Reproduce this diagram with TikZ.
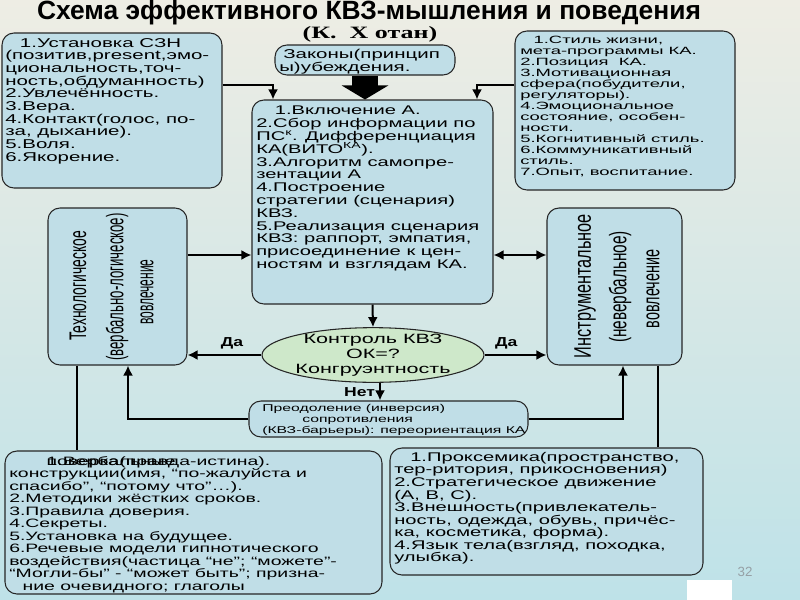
\documentclass[tikz,border=0pt]{standalone}
\usepackage{fontspec}
\setmainfont{Liberation Sans}
\newfontfamily\wfont[FakeStretch=1.35]{Liberation Sans}
\newfontfamily\wwfont[FakeStretch=1.6]{Liberation Sans}
\newfontfamily\wwwfont[FakeStretch=1.75]{Liberation Sans}
\newfontfamily\serwide[FakeStretch=1.5]{Liberation Serif}
\newcommand\tightlines{\lineskiplimit=-20pt\relax}
\usetikzlibrary{positioning, shapes.geometric, fit, arrows.meta}

\definecolor{bgtop}{RGB}{238,237,228}
\definecolor{bgbot}{RGB}{190,226,232}
\definecolor{boxfill}{RGB}{192,222,231}
\definecolor{ovalfill}{RGB}{206,232,202}
\definecolor{pagegray}{RGB}{150,160,165}

\begin{document}
\begin{tikzpicture}[x=0.75pt, y=-0.75pt,
    box/.style={draw=black!85, line width=0.8pt, fill=boxfill, rounded corners=9pt, inner sep=0pt},
    txt/.style={anchor=north west, align=left, inner sep=0pt},
    vtxt/.style={rotate=90, inner sep=0pt, font=\fontsize{18}{18}\selectfont},
    link/.style={line width=1.5pt},
    arr/.style={link, -{Latex[length=7.5pt,width=7.5pt]}},
    dblarr/.style={link, {Latex[length=7.5pt,width=7.5pt]}-{Latex[length=7.5pt,width=7.5pt]}},
    bigarr/.style={line width=19.5pt, -{Triangle[length=10.5pt,width=34.5pt]}},
    yes/.style={font=\wfont\fontsize{9.75}{9.75}\selectfont\bfseries, inner sep=1pt},
]
    \useasboundingbox (0,0) rectangle (800,600);
    \fill[top color=bgtop, bottom color=bgbot] (0,0) rectangle (800,600);

    % title
    \node (title) at (369,13) {\fontsize{19.8}{19.8}\selectfont\bfseries Схема эффективного КВЗ-мышления и поведения};
    \node (subtitle) at (370,34) {\serwide\fontsize{13}{13}\selectfont\bfseries (К.~~Х отан)};

    % boxes
    \node[box, fit={(2,33) (222,188)}] (tl) {};
    \node[box, fit={(275,45) (455,75)}] (tm) {};
    \node[box, fit={(515,31) (735,190)}] (tr) {};
    \node[box, fit={(252,100) (493,304)}] (c) {};
    \node[box, fit={(48,208) (187,365)}] (lv) {};
    \node[box, fit={(547,208) (682,365)}] (rv) {};
    \node[box, fit={(249,401) (528,437)}] (bm) {};
    \node[box, fit={(5,451) (382,594)}] (bl) {};
    \node[box, fit={(390,448) (703,575)}] (br) {};
    \node[ellipse, draw=black!85, line width=0.8pt, fill=ovalfill, minimum width=166.5pt, minimum height=41pt,
          inner sep=0pt] (ov) at (373,355) {};
    \node[align=center, inner sep=0pt, font=\wwfont\fontsize{10.1}{11.2}\selectfont\tightlines] (ovtext) at (ov.center)
          {Контроль КВЗ\\ОК=?\\Конгруэнтность};

    % texts
    \node[txt, font=\wwfont\fontsize{9.6}{9.5}\selectfont\tightlines] (tltext) at (5,38) {%
        \hspace*{11pt}1.Установка СЗН\\
        (позитив,present,эмо-\\
        циональность,точ-\\
        ность,обдуманность)\\
        2.Увлечённость.\\
        3.Вера.\\
        4.Контакт(голос, по-\\
        за, дыхание).\\
        5.Воля.\\
        6.Якорение.};
    \node[txt, font=\wwfont\fontsize{9.6}{10}\selectfont\tightlines] (tmtext) at (279,49) {%
        \hspace*{3pt}Законы(принцип\\
        ы)убеждения.};
    \node[txt, font=\wwwfont\fontsize{7.9}{8.25}\selectfont\tightlines] (trtext) at (520,36) {%
        \hspace*{10pt}1.Стиль жизни,\\
        мета-программы КА.\\
        2.Позиция~~КА.\\
        3.Мотивационная\\
        сфера(побудители,\\
        регуляторы).\\
        4.Эмоциональное\\
        состояние, особен-\\
        ности.\\
        5.Когнитивный стиль.\\
        6.Коммуникативный\\
        стиль.\\
        7.Опыт, воспитание.};
    \node[txt, font=\wwfont\fontsize{9.45}{9.6}\selectfont\tightlines] (ctext) at (256,106) {%
        \hspace*{14pt}1.Включение А.\\
        2.Сбор информации по\\
        ПС\textsuperscript{к}. Дифференциация\\
        КА(ВИТО\textsuperscript{КА}).\\
        3.Алгоритм самопре-\\
        зентации А\\
        4.Построение\\
        стратегии (сценария)\\
        КВЗ.\\
        5.Реализация сценария\\
        КВЗ: раппорт, эмпатия,\\
        присоединение к цен-\\
        ностям и взглядам КА.};
    \node[txt, font=\wwfont\fontsize{7.4}{8.3}\selectfont\tightlines] (bmtext) at (262,404) {%
        Преодоление (инверсия)\\
        \hspace*{30pt}сопротивления\\
        (КВЗ-барьеры): переориентация КА};
    \node[txt, font=\wwfont\fontsize{9.1}{9.4}\selectfont\tightlines] (bltext) at (9,456) {%
        \hspace*{28pt}\rlap{1.Вербальные}поверка(правда-истина).\\
        конструкции(имя, “по-жалуйста и\\
        спасибо”, “потому что”…).\\
        2.Методики жёстких сроков.\\
        3.Правила доверия.\\
        4.Секреты.\\
        5.Установка на будущее.\\
        6.Речевые модели гипнотического\\
        воздействия(частица “не”; “можете”-\\
        “Могли-бы” - “может быть”; призна-\\
        \hspace*{10pt}ние очевидного; глаголы};
    \node[txt, font=\wwfont\fontsize{9.45}{9.4}\selectfont\tightlines] (brtext) at (394,452) {%
        \hspace*{12pt}1.Проксемика(пространство,\\
        тер-ритория, прикосновения)\\
        2.Стратегическое движение\\
        (А, В, С).\\
        3.Внешность(привлекатель-\\
        ность, одежда, обувь, причёс-\\
        ка, косметика, форма).\\
        4.Язык тела(взгляд, походка,\\
        улыбка).};

    % vertical texts
    \node[vtxt] (lv1) at (78,286) {\scalebox{0.58}[1]{Технологическое}};
    \node[vtxt] (lv2) at (117,287) {\scalebox{0.55}[1]{(вербально-логическое)}};
    \node[vtxt] (lv3) at (147,292) {\scalebox{0.5}[1]{вовлечение}};
    \node[vtxt] (rv1) at (585,286) {\scalebox{0.68}[1]{Инструментальное}};
    \node[vtxt] (rv2) at (620,287) {\scalebox{0.64}[1]{(невербальное)}};
    \node[vtxt] (rv3) at (653,289) {\scalebox{0.6}[1]{вовлечение}};

    % connectors
    \coordinate (k1) at (273,85);
    \coordinate (k2) at (477,85);
    \coordinate (k3) at (0,255);
    \coordinate (k4) at (128,420);
    \coordinate (k5) at (623,420);
    \coordinate (k6) at (77,0);
    \coordinate (k7) at (658,0);
    \coordinate (k8) at (380,0);
    \draw[arr] (tl.east |- k1) -| (c.north -| k1);
    \draw[arr] (tr.west |- k2) -| (c.north -| k2);
    \draw[bigarr] (tm.south) -- (tm.south |- c.north);
    \draw[arr] (lv.east |- k3) -- (c.west |- k3);
    \draw[dblarr] (c.east |- k3) -- (rv.west |- k3);
    \draw[arr] (c.south) -- (ov.north);
    \draw[arr] (ov.west) -- (ov.west -| lv.east) node[yes, pos=0.4, above=3pt] (yesl) {Да};
    \draw[arr] (ov.east) -- (ov.east -| rv.west) node[yes, pos=0.35, above=3pt] (yesr) {Да};
    \draw[arr] (ov.south -| k8) -- (bm.north -| k8) node[yes, midway, left=2pt] (no) {Нет};
    \draw[arr] (bm.west) -| (lv.south -| k4);
    \draw[arr] (bm.east) -| (rv.south -| k5);
    \draw[link] (lv.south -| k6) -- (bl.north -| k6);
    \draw[link] (rv.south -| k7) -- (br.north -| k7);

    \node[text=pagegray, font=\fontsize{10}{10}\selectfont] (pnum) at (745,572) {32};
    \fill[white] (687,580) rectangle (732,600);
\end{tikzpicture}
\end{document}
